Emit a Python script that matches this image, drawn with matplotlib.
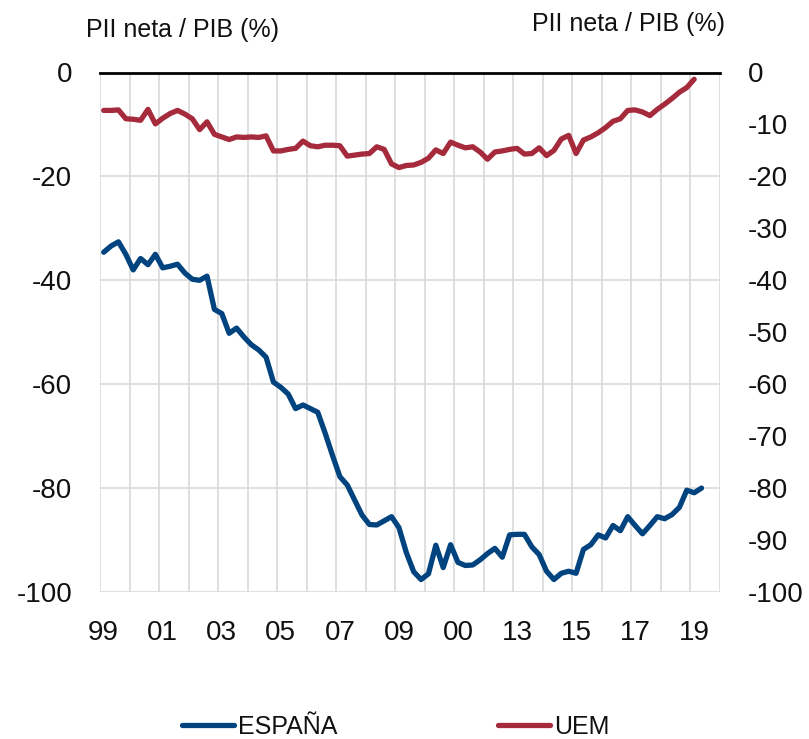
import numpy as np
import matplotlib
matplotlib.use("Agg")
import matplotlib.pyplot as plt

plt.rcParams['font.family'] = ['Liberation Sans', 'DejaVu Sans']

# quarterly series, 1999Q1 onward
espana = [-34.6, -33.4, -32.6, -35.0, -38.0, -35.8, -37.0, -35.0, -37.6, -37.3,
          -36.9, -38.6, -39.8, -40.0, -39.2, -45.6, -46.4, -50.2, -49.2, -50.9,
          -52.4, -53.4, -54.8, -59.6, -60.6, -61.9, -64.7, -64.0, -64.7, -65.4,
          -69.4, -73.7, -77.8, -79.4, -82.3, -85.2, -87.0, -87.1, -86.3, -85.5,
          -87.6, -92.4, -96.1, -97.6, -96.5, -91.0, -95.3, -90.9, -94.3, -94.9,
          -94.8, -93.8, -92.6, -91.6, -93.3, -89.0, -88.9, -88.9, -91.3, -92.8,
          -96.0, -97.6, -96.4, -96.0, -96.4, -91.8, -90.9, -89.0, -89.6, -87.2,
          -88.2, -85.5, -87.2, -88.8, -87.2, -85.5, -85.9, -85.1, -83.7, -80.4,
          -80.9, -80.0]
uem = [-7.3, -7.3, -7.2, -8.9, -9.0, -9.2, -7.1, -9.9, -8.8, -7.9,
       -7.3, -8.0, -8.9, -11.0, -9.5, -11.9, -12.4, -12.9, -12.4, -12.5,
       -12.4, -12.5, -12.2, -15.1, -15.1, -14.8, -14.6, -13.2, -14.1, -14.3,
       -14.0, -14.0, -14.1, -16.1, -15.9, -15.7, -15.6, -14.3, -14.8, -17.6,
       -18.3, -17.9, -17.8, -17.3, -16.5, -14.9, -15.6, -13.4, -14.0, -14.5,
       -14.3, -15.3, -16.7, -15.3, -15.1, -14.8, -14.6, -15.7, -15.6, -14.5,
       -16.0, -15.0, -12.8, -12.1, -15.6, -13.0, -12.4, -11.6, -10.6, -9.4,
       -8.9, -7.3, -7.2, -7.6, -8.3, -7.1, -6.1, -5.0, -3.8, -2.9,
       -1.3]
year_labels = ['99', '01', '03', '05', '07', '09', '00', '13', '15', '17', '19']

blue = '#00437f'
red = '#a52a3b'

t_es = 1999 + np.arange(len(espana)) / 4 + 0.125
t_uem = 1999 + np.arange(len(uem)) / 4 + 0.125

fig = plt.figure(figsize=(8.09, 7.39), dpi=100)
ax = fig.add_axes([100 / 809, 147 / 739, 620 / 809, 519.5 / 739])

ax.plot(t_es, espana, color=blue, lw=3.8, solid_capstyle='round', label='ESPAÑA', zorder=3)
ax.plot(t_uem, uem, color=red, lw=3.8, solid_capstyle='round', label='UEM', zorder=3)

ax.set_xlim(1999, 2020)
ax.set_ylim(-100, 0)
ax.set_xticks(np.arange(1999, 2020, 2) + 0.125)
ax.set_xticklabels(year_labels)
ax.set_xticks(np.arange(1999, 2021), minor=True)
ax.set_yticks(np.arange(0, -101, -20))
ax.set_yticklabels([str(v) for v in range(0, -101, -20)])
ax.grid(True, which='minor', axis='x', color='#d9d9d9', lw=1.2)
ax.grid(True, which='major', axis='y', color='#d9d9d9', lw=1.2)
ax.set_axisbelow(True)
ax.axhline(0, color='black', lw=2, clip_on=False, zorder=2)
for s in ax.spines.values():
    s.set_visible(False)
ax.tick_params(axis='both', which='both', length=0, labelsize=20, colors='#111111')
ax.tick_params(axis='y', pad=20)
ax.tick_params(axis='x', pad=20)

ax2 = ax.twinx()
ax2.set_ylim(-100, 0)
ax2.set_yticks(np.arange(0, -101, -10))
ax2.set_yticklabels([str(v) for v in range(0, -101, -10)])
for s in ax2.spines.values():
    s.set_visible(False)
ax2.tick_params(axis='y', length=0, labelsize=20, pad=20, colors='#111111')

fig.text(183 / 809, 1 - 30 / 739, 'PII neta / PIB (%)', ha='center', va='center', fontsize=18, color='#111111')
fig.text(628 / 809, 1 - 24 / 739, 'PII neta / PIB (%)', ha='center', va='center', fontsize=18, color='#111111')

fig.legend(loc='center', bbox_to_anchor=(395.5 / 809, 12 / 739), ncol=2, frameon=False,
           fontsize=18, handlelength=2.1, handletextpad=0.15, columnspacing=6.4,
           borderpad=0, labelcolor='#111111')

fig.savefig('out.png', dpi=100)
